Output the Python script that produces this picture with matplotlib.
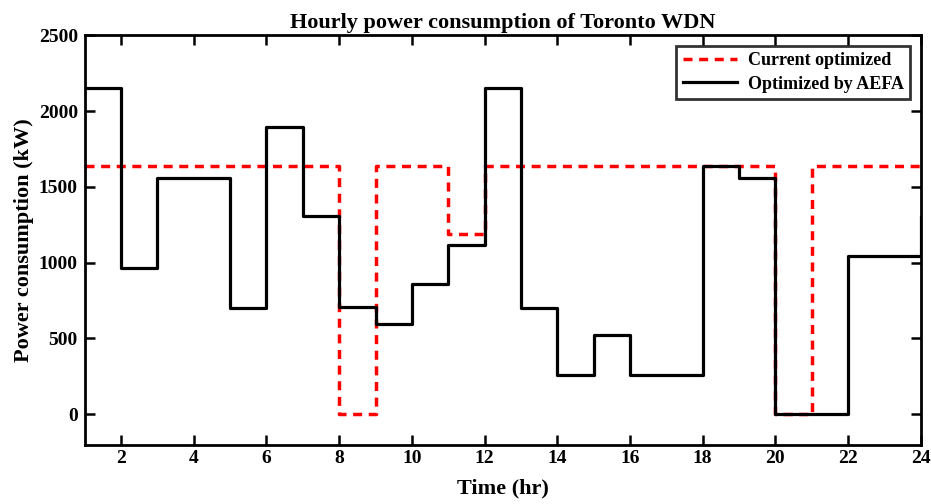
import numpy as np
from matplotlib import pyplot as plt

hours = np.arange(1, 25)
current = [1637, 1637, 1637, 1637, 1637, 1637, 1637, 0, 1637, 1637, 1190, 1637,
           1637, 1637, 1637, 1637, 1637, 1637, 1637, 0, 1637, 1637, 1637, 1637]
aefa = [2155, 962, 1558, 1558, 703, 1897, 1306, 710, 597, 862, 1114, 2155,
        703, 259, 524, 259, 259, 1638, 1558, 0, 0, 1041, 1041, 1300]

plt.rcParams['font.family'] = 'Liberation Serif'
plt.rcParams['font.weight'] = 'bold'

fig = plt.figure(figsize=(9.31, 5.04), dpi=100)
ax = fig.add_axes([0.091, 0.118, 0.898, 0.812])

ax.step(hours, current, where='post', color='#ff0000', ls=(0, (2.6, 1.9)), lw=2.5,
        label='Current optimized')
ax.step(hours, aefa, where='post', color='black', lw=2.3, label='Optimized by AEFA')

ax.set_xlim(1, 24)
ax.set_ylim(-200, 2500)
ax.set_xticks(np.arange(2, 25, 2))
ax.set_yticks(np.arange(0, 2501, 500))
ax.tick_params(direction='in', top=True, right=True, length=7, width=1.8,
               labelsize=14)
ax.tick_params(axis='x', pad=4)
ax.tick_params(axis='y', pad=5)
for s in ax.spines.values():
    s.set_linewidth(2)

ax.set_title('Hourly power consumption of Toronto WDN', fontsize=16, fontweight='bold', pad=5)
ax.set_xlabel('Time (hr)', fontsize=16, fontweight='bold', labelpad=8)
ax.set_ylabel('Power consumption (kW)', fontsize=16, fontweight='bold', labelpad=3)

leg = ax.legend(loc='upper right', fontsize=13, frameon=True, fancybox=False,
                edgecolor='black', borderaxespad=0.6, handlelength=3.0,
                borderpad=0.35, labelspacing=0.35, handletextpad=0.6)
leg.get_frame().set_linewidth(2)

fig.savefig('out.png', dpi=100)
